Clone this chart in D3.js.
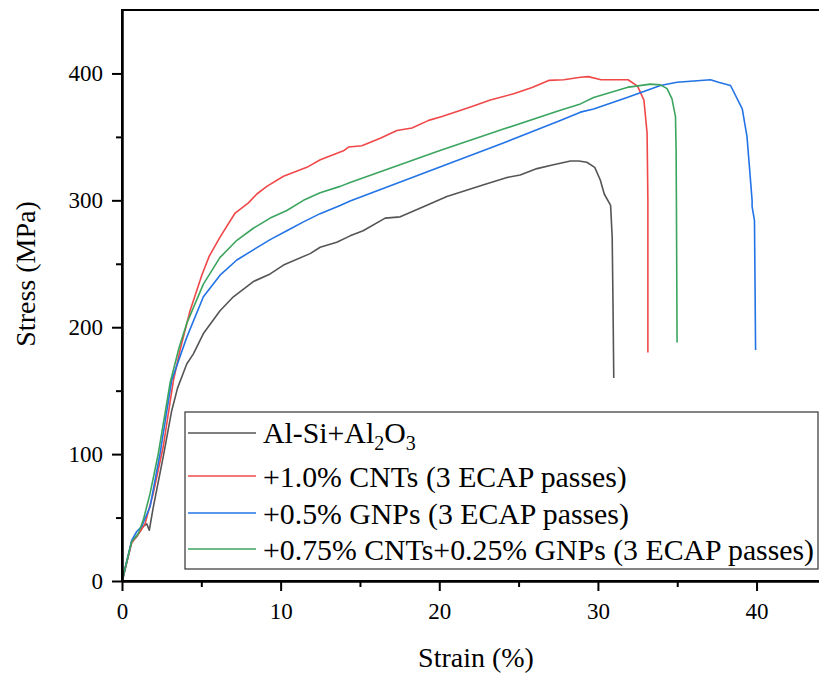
<!DOCTYPE html>
<html>
<head>
<meta charset="utf-8">
<script src="https://cdn.jsdelivr.net/npm/d3@7"></script>
<style>
  body { margin: 0; background: #fff; }
  svg { display: block; }
  svg text { font-family: "Liberation Serif", Tinos, "Times New Roman", "DejaVu Serif", "Noto Serif", serif; }
</style>
</head>
<body>
<svg></svg>
<script>
// strain (%) / stress (MPa)
var grayStrain = [0, 0.08, 0.61, 0.93, 1.34, 1.56, 1.72, 1.97, 2.6, 3.13, 3.5, 4.08, 4.5, 5.13, 6.18, 7.02, 8.28, 9.34, 10.18, 11.86, 12.49, 13.54, 14.38, 15.2, 16.59, 17.54, 19.0, 20.48, 23.0, 24.27, 25.1, 26.16, 27.2, 28.27, 28.8, 29.3, 29.8, 30.15, 30.4, 30.8, 30.9, 30.95, 31.0];
var grayStress = [0, 3, 31, 35, 43, 45, 40, 58, 98, 134, 152, 171, 179, 195, 213, 224, 236, 242, 249, 258, 263, 267, 272, 276, 286, 287, 295, 303, 313, 318, 320, 325, 328, 331, 331, 330, 326, 316, 305, 296, 271, 220, 160];

var redStrain = [0, 0.61, 1.14, 1.45, 1.97, 2.6, 3.24, 3.66, 4.29, 5.03, 5.5, 6.18, 7.13, 7.97, 8.5, 9.13, 10.18, 11.65, 12.5, 13.96, 14.28, 15.12, 16.28, 17.33, 18.28, 19.33, 20.17, 21.12, 22.06, 23.22, 24.69, 25.85, 26.9, 27.85, 28.9, 29.4, 30.2, 31.9, 32.5, 32.9, 33.1, 33.15, 33.15];
var redStress = [0, 30, 39, 45, 69, 106, 158, 182, 213, 241, 256, 271, 290, 298, 305, 311, 319, 326, 332, 339, 342, 343, 349, 355, 357, 363, 366, 370, 374, 379, 384, 389, 394.5, 395, 397, 397.5, 395, 395, 390, 379, 353, 300, 180];

var blueStrain = [0, 0.61, 0.93, 1.24, 1.77, 2.4, 3.13, 4.08, 5.13, 6.18, 7.24, 8.28, 9.34, 10.39, 11.44, 12.49, 13.75, 14.38, 20, 24, 27.63, 28.9, 29.73, 31.84, 33.94, 34.99, 37.1, 37.6, 38.36, 39.1, 39.4, 39.72, 39.72, 39.87, 39.94];
var blueStress = [0, 32, 39, 43, 58.5, 100.5, 158, 192, 224, 241, 253, 261, 269, 276, 283, 289.5, 296, 299.5, 326, 345, 363, 369.5, 372, 381, 390.5, 393, 395, 393, 390.5, 372, 350, 300, 295, 284, 182];

var greenStrain = [0, 0.61, 1.03, 1.34, 1.77, 2.29, 3.03, 3.6, 4.08, 5.13, 6.18, 7.24, 8.28, 9.34, 10.39, 11.44, 12.49, 13.75, 14.38, 20, 24, 27.63, 28.9, 29.73, 31.84, 33.3, 33.94, 34.36, 34.67, 34.89, 34.93, 34.95, 34.99];
var greenStress = [0, 31, 37.5, 48, 69, 100.5, 156, 184, 203, 234, 255, 268.5, 278, 286, 292, 300, 306, 311, 314, 339, 356, 371, 376, 381, 389, 391.6, 391, 388, 380, 366, 339, 296, 188];

var seriesNames = ["Al-Si+Al2O3", "+1.0% CNTs (3 ECAP passes)", "+0.5% GNPs (3 ECAP passes)", "+0.75% CNTs+0.25% GNPs (3 ECAP passes)"];
var seriesColors = ["#555555", "#f04848", "#2273e6", "#3ba55f"];

var xTicks = [0, 10, 20, 30, 40];
var xMinor = [5, 15, 25, 35];
var yTicks = [0, 100, 200, 300, 400];
var yMinor = [50, 150, 250, 350];

var width = 819;
var height = 673;
var svg = d3.select('svg')
			.attr("width", width)
			.attr("height", height);

var padding = {
	top: 10,
	bottom: 92,
	left: 122,
	right: -1
}

var xScale = d3.scaleLinear()
			.domain([0, 44])
			.range([padding.left, width - padding.right]);

var yScale = d3.scaleLinear()
			.domain([0, 450])
			.range([height - padding.bottom, padding.top]);

var series = [
	{ x: grayStrain, y: grayStress },
	{ x: redStrain, y: redStress },
	{ x: blueStrain, y: blueStress },
	{ x: greenStrain, y: greenStress }
].map(function(s, i) {
	return {
		name: seriesNames[i],
		color: seriesColors[i],
		points: s.x.map(function(v, j) { return [v, s.y[j]]; })
	};
});

var line = d3.line()
			.x(d => xScale(d[0]))
			.y(d => yScale(d[1]));

// curves
svg.append('g')
	.selectAll('path')
	.data(series)
	.enter()
	.append('path')
	.attr('d', d => line(d.points))
	.attr('fill', 'none')
	.attr('stroke', d => d.color)
	.attr('stroke-width', 1.6)
	.attr('stroke-linejoin', 'round');

// frame
svg.append('rect')
	.attr('x', xScale(0))
	.attr('y', yScale(450))
	.attr('width', xScale(44) - xScale(0))
	.attr('height', yScale(0) - yScale(450))
	.attr('fill', 'none')
	.attr('stroke', 'black')
	.attr('stroke-width', 2);

//x-axis
svg.append('g')
	.attr("transform", "translate(0," + yScale(0) + ")")
	.call(d3.axisBottom(xScale).tickValues(xTicks).tickSize(10).tickSizeOuter(0).tickPadding(12));
svg.append('g')
	.attr("transform", "translate(0," + yScale(0) + ")")
	.call(d3.axisBottom(xScale).tickValues(xMinor).tickSize(6).tickSizeOuter(0).tickFormat(''));

//y-axis
svg.append('g')
	.attr("transform", "translate(" + xScale(0) + ",0)")
	.call(d3.axisLeft(yScale).tickValues(yTicks).tickSize(10).tickSizeOuter(0).tickPadding(9));
svg.append('g')
	.attr("transform", "translate(" + xScale(0) + ",0)")
	.call(d3.axisLeft(yScale).tickValues(yMinor).tickSize(6).tickSizeOuter(0).tickFormat(''));

svg.selectAll('.domain').attr('stroke-width', 2);
svg.selectAll('.tick line').attr('stroke-width', 2);
svg.selectAll('.tick text')
	.attr('font-size', 23)
	.attr('fill', 'black');

svg.append("text")
	.attr("text-anchor", "middle")
	.attr("x", 476)
	.attr("y", 667)
	.attr("font-size", 28)
	.text("Strain (%)");

svg.append("text")
	.attr("text-anchor", "middle")
	.attr("transform", "translate(35,274) rotate(-90)")
	.attr("font-size", 28)
	.text("Stress (MPa)");

// legend
var legend = svg.append('g');
legend.append('rect')
	.attr('x', 185)
	.attr('y', 412)
	.attr('width', 633)
	.attr('height', 157)
	.attr('fill', 'white')
	.attr('stroke', '#333')
	.attr('stroke-width', 1.2);

var rowLine = [433, 476, 513, 549];
var rowText = [443, 487, 524, 560];

series.forEach(function(s, i) {
	legend.append('line')
		.attr('x1', 188)
		.attr('x2', 256)
		.attr('y1', rowLine[i])
		.attr('y2', rowLine[i])
		.attr('stroke', s.color)
		.attr('stroke-width', 1.6);
	var t = legend.append('text')
		.attr('x', 263)
		.attr('y', rowText[i])
		.attr('font-size', 29.8);
	if (i == 0) {
		t.append('tspan').text('Al-Si+Al');
		t.append('tspan').attr('font-size', 20).attr('dy', 7).text('2');
		t.append('tspan').attr('dy', -7).text('O');
		t.append('tspan').attr('font-size', 20).attr('dy', 7).text('3');
	} else {
		t.text(s.name);
	}
});
</script>
</body>
</html>
